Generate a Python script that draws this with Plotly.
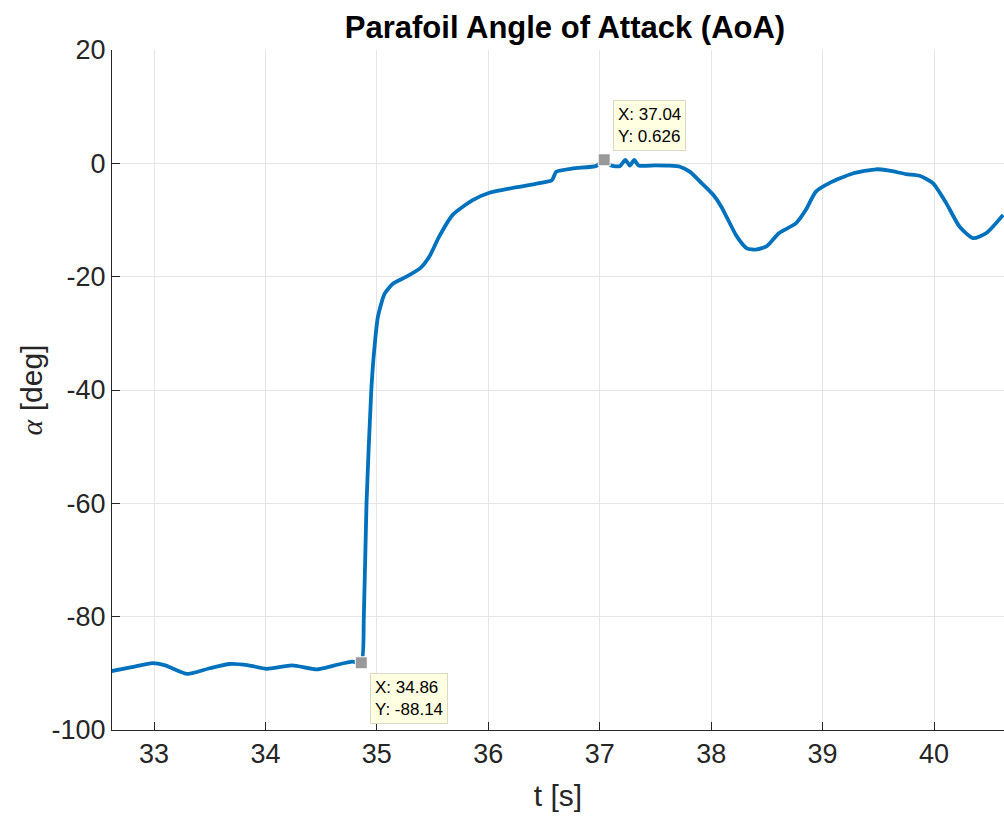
import plotly.graph_objects as go

# Data
t_s = [32.62, 32.80, 32.99, 33.10, 33.30, 33.50, 33.68, 33.85, 34.01, 34.24,
       34.46, 34.62, 34.78, 34.86, 34.883, 34.907, 34.95, 34.976, 35.01, 35.07,
       35.146, 35.266, 35.39, 35.47, 35.56, 35.68, 35.86, 36.01, 36.20, 36.46,
       36.57, 36.61, 36.76, 36.97, 37.04, 37.10, 37.18, 37.23, 37.27, 37.31,
       37.35, 37.50, 37.62, 37.72, 37.81, 37.92, 38.02, 38.09, 38.23, 38.32,
       38.41, 38.50, 38.61, 38.76, 38.85, 38.94, 39.06, 39.27, 39.48, 39.60,
       39.75, 39.87, 39.99, 40.11, 40.23, 40.35, 40.47, 40.62]
alpha_deg = [-89.6, -88.9, -88.2, -88.6, -90.1, -89.1, -88.35, -88.6, -89.2, -88.6,
             -89.3, -88.6, -87.95, -88.14, -80.0, -60.0, -40.0, -33.0, -27.0, -23.0,
             -21.2, -20.0, -18.5, -16.5, -12.9, -9.1, -6.5, -5.2, -4.4, -3.5,
             -3.0, -1.5, -0.9, -0.45, 0.626, -0.4, -0.5, 0.6, -0.4, 0.6,
             -0.4, -0.35, -0.4, -0.6, -1.5, -3.6, -5.6, -7.6, -12.9, -15.0,
             -15.2, -14.6, -12.3, -10.6, -8.2, -5.0, -3.5, -1.8, -1.05, -1.3,
             -1.9, -2.2, -3.5, -7.05, -11.2, -13.2, -12.3, -9.1]

tip_x = [34.86, 37.04]
tip_y = [-88.14, 0.626]
tip_text = ["X: 34.86<br>Y: -88.14", "X: 37.04<br>Y: 0.626"]

x_ticks = [33, 34, 35, 36, 37, 38, 39, 40]
x_tick_text = ["33", "34", "35", "36", "37", "38", "39", "40"]
y_ticks = [-100, -80, -60, -40, -20, 0, 20]
y_tick_text = ["-100", "-80", "-60", "-40", "-20", "0", "20"]

FONT = "Liberation Sans, Arial, Helvetica, sans-serif"
AX = "#262626"
GRID = "#e5e5e5"

fig = go.Figure()
fig.add_trace(go.Scatter(
    x=t_s, y=alpha_deg, mode="lines",
    line=dict(color="#0072BD", width=3.8, shape="spline", smoothing=0.6),
    showlegend=False, hoverinfo="skip"))
fig.add_trace(go.Scatter(
    x=tip_x, y=tip_y, mode="markers",
    marker=dict(symbol="square", size=12, color="#999999",
                line=dict(color="#ffffff", width=1)),
    showlegend=False, hoverinfo="skip"))

# datatip boxes
fig.add_annotation(x=tip_x[0], y=tip_y[0], xref="x", yref="y", text=tip_text[0],
                   showarrow=False, xanchor="left", yanchor="top", xshift=9, yshift=-10,
                   align="left", bgcolor="#ffffe1", bordercolor="#d9d9c6", borderwidth=1,
                   borderpad=4, font=dict(family=FONT, size=17, color="#000000"))
fig.add_annotation(x=tip_x[1], y=tip_y[1], xref="x", yref="y", text=tip_text[1],
                   showarrow=False, xanchor="left", yanchor="bottom", xshift=9, yshift=9,
                   align="left", bgcolor="#ffffe1", bordercolor="#d9d9c6", borderwidth=1,
                   borderpad=4, font=dict(family=FONT, size=17, color="#000000"))

fig.update_layout(
    width=1004, height=821,
    margin=dict(l=112, r=0, t=50, b=91),
    paper_bgcolor="white", plot_bgcolor="white",
    font=dict(family=FONT, color=AX),
    title=dict(text="<b>Parafoil Angle of Attack (AoA)</b>", x=565 / 1004, xanchor="center",
               y=1 - 27 / 821, yanchor="middle", font=dict(family=FONT, size=31, color="#000000")),
    xaxis=dict(range=[32.623, 40.628], tickvals=x_ticks, ticktext=x_tick_text,
               ticks="inside", ticklen=8,
               tickcolor=AX, showline=True, linecolor=AX, linewidth=1, mirror=False,
               showgrid=True, gridcolor=GRID, gridwidth=1, zeroline=False,
               tickfont=dict(family=FONT, size=27, color=AX),
               title=dict(text="t [s]", font=dict(family=FONT, size=30, color=AX), standoff=16)),
    yaxis=dict(range=[-100, 20], tickvals=y_ticks, ticktext=y_tick_text,
               ticks="inside", ticklen=8,
               tickcolor=AX, showline=True, linecolor=AX, linewidth=1, mirror=False,
               showgrid=True, gridcolor=GRID, gridwidth=1, zeroline=False,
               tickfont=dict(family=FONT, size=27, color=AX),
               title=dict(text='<span style="font-family:Liberation Serif"><i>α</i></span> [deg]',
                          font=dict(family=FONT, size=30, color=AX), standoff=0)),
)

fig.write_html("out.html")
